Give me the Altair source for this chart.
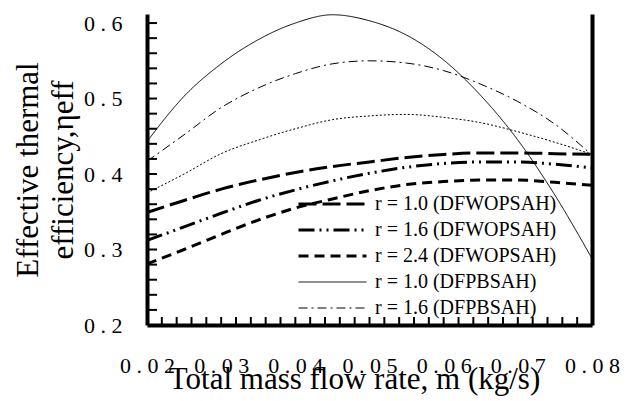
import altair as alt
import pandas as pd

# ---- data ----
mass_flow = [0.020, 0.025, 0.030, 0.035, 0.040, 0.045, 0.050, 0.055, 0.060, 0.065, 0.070, 0.075, 0.080]
r10_dfwopsah = [0.349, 0.365, 0.380, 0.392, 0.402, 0.410, 0.416, 0.422, 0.426, 0.428, 0.428, 0.427, 0.426]
r16_dfwopsah = [0.312, 0.330, 0.348, 0.365, 0.379, 0.391, 0.401, 0.409, 0.414, 0.416, 0.416, 0.413, 0.408]
r24_dfwopsah = [0.281, 0.300, 0.320, 0.339, 0.355, 0.367, 0.378, 0.386, 0.390, 0.392, 0.392, 0.389, 0.385]
r10_dfpbsah = [0.443, 0.503, 0.546, 0.578, 0.600, 0.611, 0.603, 0.584, 0.551, 0.504, 0.445, 0.372, 0.288]
r16_dfpbsah = [0.417, 0.452, 0.488, 0.514, 0.533, 0.546, 0.550, 0.547, 0.537, 0.519, 0.496, 0.466, 0.425]
r24_dfpbsah = [0.375, 0.400, 0.427, 0.445, 0.460, 0.472, 0.477, 0.479, 0.475, 0.468, 0.456, 0.442, 0.426]

series_names = [
    "r = 1.0 (DFWOPSAH)",
    "r = 1.6 (DFWOPSAH)",
    "r = 2.4 (DFWOPSAH)",
    "r = 1.0 (DFPBSAH)",
    "r = 1.6 (DFPBSAH)",
    "r = 2.4 (DFPBSAH)",
]
legend_names = series_names[:5]
series_values = [r10_dfwopsah, r16_dfwopsah, r24_dfwopsah, r10_dfpbsah, r16_dfpbsah, r24_dfpbsah]

x_labels = [0.02, 0.03, 0.04, 0.05, 0.06, 0.07, 0.08]
y_labels = [0.2, 0.3, 0.4, 0.5, 0.6]
x_minor = [round(0.02 + 0.002 * i, 3) for i in range(1, 30)]
y_minor = [round(0.2 + 0.02 * i, 2) for i in range(1, 21)]

rows = []
for name, vals in zip(series_names, series_values):
    for m, v in zip(mass_flow, vals):
        rows.append({"m": m, "eff": v, "series": name})
df = pd.DataFrame(rows)
df_xt = pd.DataFrame({"m": x_minor})
df_yt = pd.DataFrame({"eff": y_minor})

# ---- styling ----
FONT = "Liberation Serif"
dashes = [[18, 6], [16, 5, 2, 5, 2, 5], [10, 6], [1, 0], [9, 4, 2, 4], [2, 2]]
widths = [3, 3, 3, 1, 1, 1]
spaced = "join(split(datum.label, ''), ' ')"

xscale = alt.Scale(domain=[0.02, 0.08], nice=False, zero=False)
yscale = alt.Scale(domain=[0.2, 0.612], nice=False, zero=False)

legend = alt.Legend(
    values=legend_names, title=None, orient="none", legendX=150, legendY=180,
    symbolType="M-1,0H7", symbolSize=289, symbolStrokeColor="black",
    labelFont=FONT, labelFontSize=20, labelColor="black", labelOffset=58, labelLimit=0,
    rowPadding=6, padding=0,
)

x_main = alt.Axis(
    values=x_labels, format=".2f", labelExpr=spaced, ticks=False, tickSize=0, grid=False,
    domainColor="black", domainWidth=4, labelFont=FONT, labelFontSize=22, labelColor="black",
    labelPadding=30, labelFlush=False, labelOverlap=False,
    title="Total mass flow rate, m (kg/s)", titleFont=FONT, titleFontSize=31,
    titleFontWeight="normal", titleColor="black", titleX=207, titleY=63,
    titleBaseline="alphabetic", titleAlign="center",
)
y_main = alt.Axis(
    values=y_labels, format=".1f", labelExpr=spaced, ticks=False, tickSize=0, grid=False,
    domainColor="black", domainWidth=4, labelFont=FONT, labelFontSize=22, labelColor="black",
    labelPadding=25, labelFlush=False, labelOverlap=False,
    title=["Effective thermal", "efficiency,\u03b7eff"], titleFont=FONT, titleFontSize=31,
    titleFontWeight="normal", titleColor="black", titleAngle=270, titleX=-110,
    titleBaseline="alphabetic", titleLineHeight=35,
)

# inward minor ticks on the left and bottom axes
yticks = alt.Chart(df_yt).mark_rule(color="black", strokeWidth=2).encode(
    y=alt.Y("eff:Q", scale=yscale, axis=None),
    x=alt.value(0),
    x2=alt.value(10),
)
xticks = alt.Chart(df_xt).mark_rule(color="black", strokeWidth=2).encode(
    x=alt.X("m:Q", scale=xscale, axis=None),
    y=alt.value(303),
    y2=alt.value(311),
)

lines = alt.Chart(df).mark_line(interpolate="monotone", color="black").encode(
    x=alt.X("m:Q", scale=xscale, axis=x_main),
    y=alt.Y("eff:Q", scale=yscale, axis=y_main),
    strokeDash=alt.StrokeDash("series:N", scale=alt.Scale(domain=series_names, range=dashes), legend=legend),
    strokeWidth=alt.StrokeWidth("series:N", scale=alt.Scale(domain=series_names, range=widths, type="ordinal"), legend=legend),
    detail="series:N",
)

# right-hand frame line
frame_layer = alt.Chart(df).mark_point(opacity=0).encode(
    x=alt.X("m:Q", scale=xscale, axis=None),
    y=alt.Y("eff:Q", scale=yscale, axis=alt.Axis(
        orient="right", labels=False, ticks=False, grid=False, domain=True,
        domainColor="black", domainWidth=4, title=None)),
)

chart = alt.layer(yticks, xticks, lines, frame_layer).resolve_axis(
    x="independent", y="independent"
).properties(
    width=445, height=311,
    autosize=alt.AutoSizeParams(type="none"),
    padding={"left": 147, "top": 14, "right": 36, "bottom": 76},
    background="white",
).configure_view(stroke=None)

chart.save("out.html", embed_options={"renderer": "svg", "actions": False})
